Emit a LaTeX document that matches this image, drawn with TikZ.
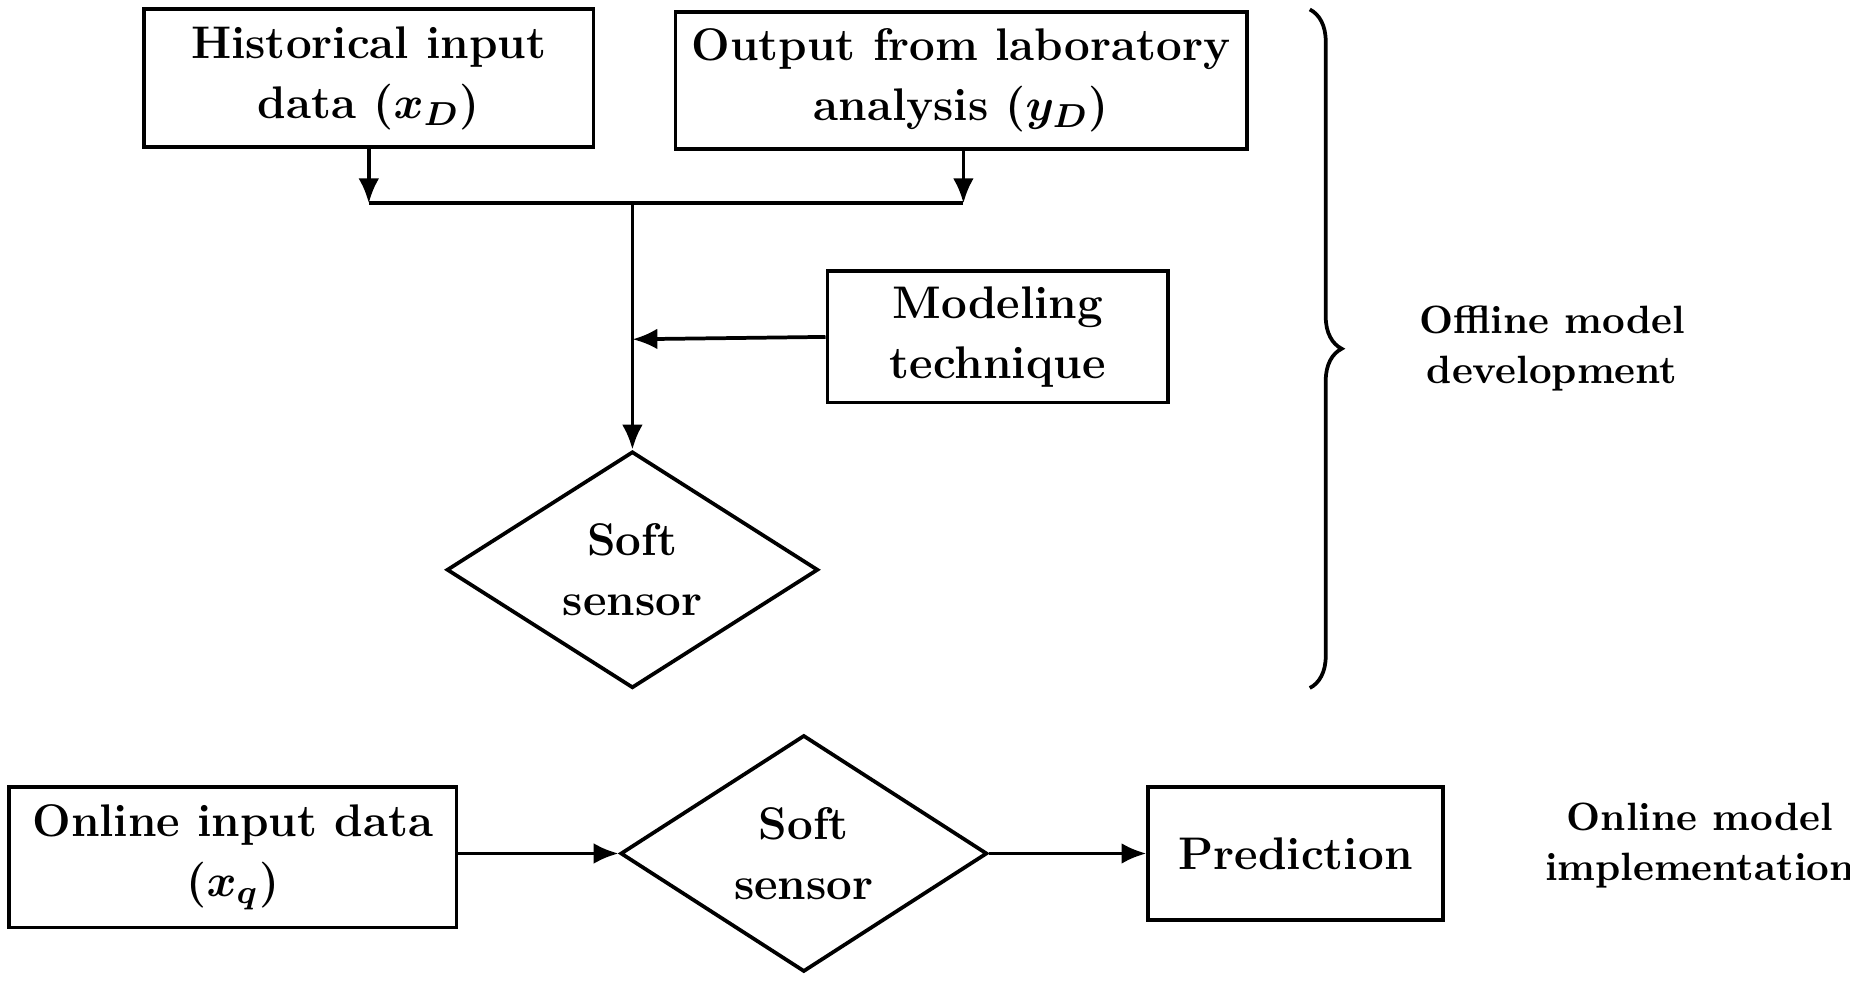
\documentclass[tikz,border=0pt]{standalone}
\usepackage{amsmath,bm}
\usetikzlibrary{shapes.geometric,decorations.pathreplacing,arrows.meta}
\begin{document}
\begin{tikzpicture}[x=0.01cm,y=-0.01cm,
 box/.style={draw,line width=0.9pt,align=center,font=\fontsize{11}{14.5}\selectfont\bfseries,inner sep=0pt},
 dia/.style={draw,line width=0.9pt,diamond,align=center,font=\fontsize{11}{14.5}\selectfont\bfseries,inner sep=0pt,aspect=1.55},
 lbl/.style={align=center,font=\fontsize{9.5}{12}\selectfont\bfseries},
 arr/.style={line width=0.9pt,-{Latex[length=6pt,width=5pt]}},
 ln/.style={line width=0.9pt}]
\useasboundingbox (0,0) rectangle (1565,830);
\node[box,minimum width=3.8cm,minimum height=1.17cm] (hist) at (312,66) {Historical input\\data ($\bm{x_D}$)};
\node[box,minimum width=4.83cm,minimum height=1.16cm] (lab) at (813,68) {Output from laboratory\\analysis ($\bm{y_D}$)};
\node[box,minimum width=2.88cm,minimum height=1.11cm] (mod) at (844,285) {Modeling\\technique};
\node[dia,minimum width=3.14cm,minimum height=2.0cm] (ss1) at (535,482) {Soft\\sensor};
\coordinate (j1) at (312,172);
\coordinate (j2) at (815,172);
\coordinate (jm) at (535,172);
\coordinate (jt) at (535,287);
\draw[arr] (hist.south) -- (j1);
\draw[arr] (lab.south -| j2) -- (j2);
\draw[ln] (j1) -- (j2);
\draw[arr] (jm) -- (ss1.north);
\draw[arr] (mod.west) -- (jt);
\coordinate (bt) at (1108,8);
\coordinate (bb) at (1108,582);
\draw[ln,decorate,decoration={brace,amplitude=0.27cm}] (bt) -- (bb);
\node[lbl] (off) at (1313,295) {Offline model\\development};
\node[box,minimum width=3.78cm,minimum height=1.19cm] (onl) at (197,725) {Online input data\\($\bm{x_q}$)};
\node[dia,minimum width=3.1cm,minimum height=2.0cm] (ss2) at (680,722) {Soft\\sensor};
\node[box,minimum width=2.49cm,minimum height=1.12cm] (pred) at (1096,722) {Prediction};
\draw[arr] (onl.east |- ss2) -- (ss2.west);
\draw[arr] (ss2.east) -- (pred.west);
\node[lbl] (onm) at (1438,715) {Online model\\implementation};
\end{tikzpicture}
\end{document}
